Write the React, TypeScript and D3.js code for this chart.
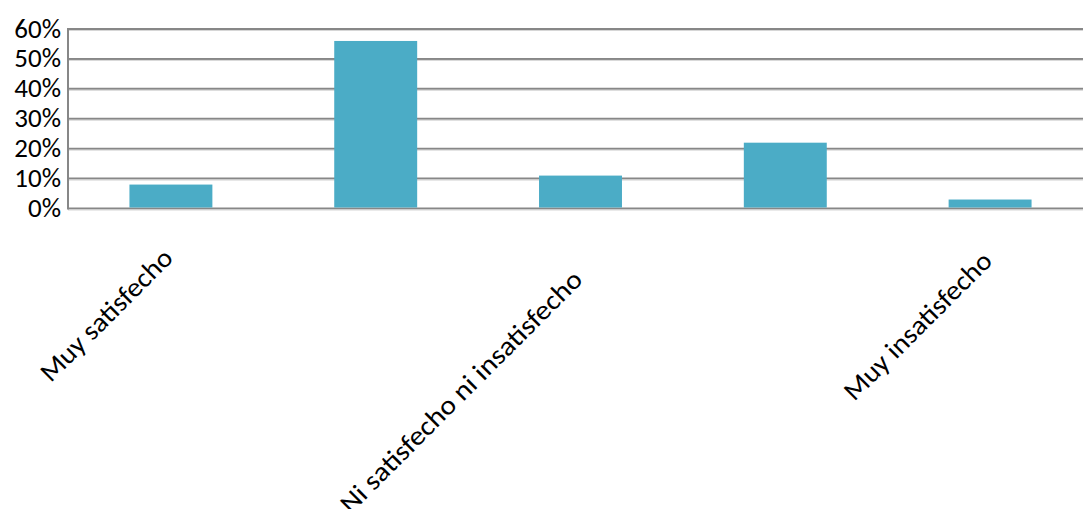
import React from "react";
import * as d3 from "d3";

const categories = [
  "Muy satisfecho",
  "Satisfecho",
  "Ni satisfecho ni insatisfecho",
  "Insatisfecho",
  "Muy insatisfecho",
];
const values = [0.08, 0.56, 0.11, 0.22, 0.03];
const yTicks = [0, 0.1, 0.2, 0.3, 0.4, 0.5, 0.6];
const shownLabels = [true, false, true, false, true];

const W = 1083;
const H = 509;
const FONT = "Carlito, Calibri, 'Liberation Sans Narrow', Lato, sans-serif";

export default function App() {
  const x = d3
    .scaleBand<string>()
    .domain(categories)
    .range([68, 1093])
    .paddingInner(0.595)
    .paddingOuter(0.3);
  const y = d3.scaleLinear().domain([0, 0.6]).range([208.5, 29]);
  const fmt = d3.format(".0%");
  const labelLen: Record<string, number> = {
    "Muy satisfecho": 175,
    "Ni satisfecho ni insatisfecho": 330,
    "Muy insatisfecho": 197,
  };

  return (
    <svg
      width={W}
      height={H}
      style={{ position: "absolute", left: 0, top: 0, background: "#fff" }}
    >
      {yTicks.map((t) => (
        <g key={"g" + t}>
          <line x1={68} x2={W} y1={y(t)} y2={y(t)} stroke="#878787" strokeWidth={2} />
          <line x1={68} x2={W} y1={y(t) + 1.5} y2={y(t) + 1.5} stroke="#d6d6d6" strokeWidth={1} />
        </g>
      ))}
      <line x1={68} x2={68} y1={y(0.6) - 1} y2={y(0) + 1} stroke="#878787" strokeWidth={2} />
      {categories.map((c, i) => (
        <rect
          key={c}
          x={x(c)}
          y={y(values[i])}
          width={x.bandwidth()}
          height={y(0) - y(values[i]) - 1}
          fill="#4BACC6"
        />
      ))}
      {yTicks.map((t) => (
        <text
          key={"t" + t}
          x={61}
          y={y(t) + 8.5}
          textAnchor="end"
          fontFamily={FONT}
          fontSize={27}
          fill="#000"
        >
          {fmt(t)}
        </text>
      ))}
      {categories.map((c, i) => {
        if (!shownLabels[i]) return null;
        const L = labelLen[c];
        const cx = (x(c) as number) + x.bandwidth() / 2 + 3.5;
        const cy = y(0) + 51 + 0.14 * (L - 175);
        return (
          <text
            key={"x" + c}
            transform={`translate(${cx},${cy}) rotate(-45)`}
            textAnchor="end"
            fontFamily={FONT}
            fontSize={27}
            textLength={L}
            lengthAdjust="spacingAndGlyphs"
            fill="#000"
          >
            {c}
          </text>
        );
      })}
    </svg>
  );
}
